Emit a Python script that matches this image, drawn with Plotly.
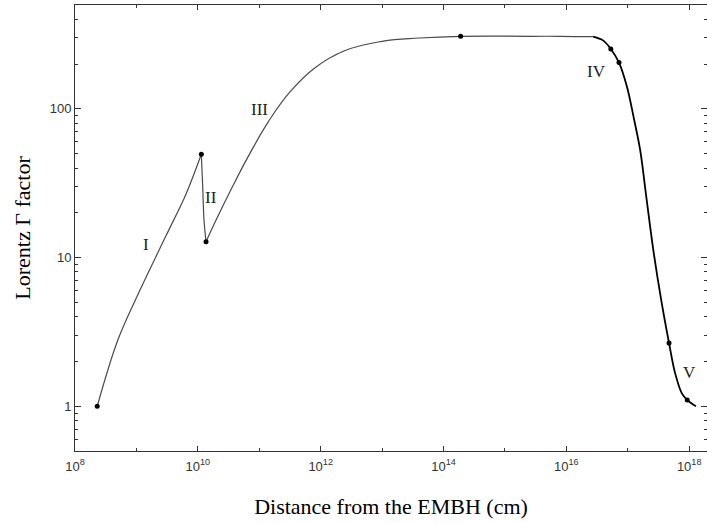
import plotly.graph_objects as go

# ---- data ----
# Segment I (acceleration)
seg1_x = [2.3e8, 5.0e8, 1.15e9, 3.03e9, 6.43e9, 1.14e10]
seg1_y = [1.0, 2.80, 6.07, 14.0, 26.8, 49.5]
# Segment II (collision with baryons)
seg2_x = [1.14e10, 1.20e10, 1.26e10, 1.36e10]
seg2_y = [49.5, 30.0, 17.9, 12.8]
# Segment III (re-acceleration and coasting)
seg3_x = [1.36e10, 1.98e10, 3.78e10, 7.08e10, 1.41e11, 3.16e11, 7.9e11, 2.5e12,
          1.0e13, 4.0e13, 1.9e14, 2.6e15, 7.9e15, 2.73e16]
seg3_y = [12.8, 17.9, 30.8, 50.4, 82.2, 130, 188, 247,
          285, 300, 308, 308, 308, 306]
# Segments IV and V (deceleration)
seg4_x = [2.73e16, 4.0e16, 5.3e16, 7.2e16, 9.7e16, 1.24e17, 1.59e17, 2.0e17,
          2.6e17, 3.5e17, 4.7e17, 5.9e17, 7.6e17, 9.3e17, 1.29e18]
seg4_y = [306, 288, 253, 205, 141, 88.7, 53, 25.7,
          11.3, 5.2, 2.66, 1.67, 1.22, 1.10, 1.0]
# Marked points
pts_x = [2.3e8, 1.14e10, 1.36e10, 1.9e14, 5.3e16, 7.2e16, 4.7e17, 9.3e17]
pts_y = [1.0, 49.5, 12.8, 308, 253, 205, 2.66, 1.10]

# Phase labels
phase_labels = ["I", "II", "III", "IV", "V"]
phase_logx = [9.156, 10.215, 10.997, 16.485, 18.0]
phase_logy = [1.085, 1.401, 1.993, 2.249, 0.225]

# Ticks
x_major = [1e8, 1e10, 1e12, 1e14, 1e16, 1e18]
x_major_text = ["10<sup>8</sup>", "10<sup>10</sup>", "10<sup>12</sup>",
                "10<sup>14</sup>", "10<sup>16</sup>", "10<sup>18</sup>"]
x_minor = [1e9, 1e11, 1e13, 1e15, 1e17]
y_major = [1, 10, 100]
y_major_text = ["1", "10", "100"]
y_minor = [0.5, 0.6, 0.7, 0.8, 0.9, 2, 3, 4, 5, 6, 7, 8, 9,
           20, 30, 40, 50, 60, 70, 80, 90, 200, 300, 400, 500]

fig = go.Figure()
line_grey = dict(color="#4a4a4a", width=1.2, shape="spline", smoothing=1.0)
fig.add_trace(go.Scatter(x=seg1_x, y=seg1_y, mode="lines", line=line_grey, hoverinfo="skip"))
fig.add_trace(go.Scatter(x=seg2_x, y=seg2_y, mode="lines", line=line_grey, hoverinfo="skip"))
fig.add_trace(go.Scatter(x=seg3_x, y=seg3_y, mode="lines",
                         line=dict(color="#4a4a4a", width=1.2, shape="spline", smoothing=1.2),
                         hoverinfo="skip"))
fig.add_trace(go.Scatter(x=seg4_x, y=seg4_y, mode="lines",
                         line=dict(color="#000000", width=1.8, shape="spline", smoothing=1.0),
                         hoverinfo="skip"))
fig.add_trace(go.Scatter(x=pts_x, y=pts_y, mode="markers",
                         marker=dict(color="#000000", size=5)))

for lab, lx, ly in zip(phase_labels, phase_logx, phase_logy):
    fig.add_annotation(x=lx, y=ly, xref="x", yref="y", text=lab, showarrow=False,
                       font=dict(family="Liberation Serif", size=17, color="#222222"))

axis_common = dict(
    type="log", showgrid=False, zeroline=False, showline=True, linecolor="#333333",
    linewidth=1, mirror="allticks", ticks="inside", tickcolor="#333333",
    tickfont=dict(family="Liberation Sans", size=13, color="#333333"),
)

fig.update_xaxes(
    **axis_common,
    range=[8, 18.29], tickvals=x_major, ticktext=x_major_text, ticklen=5,
    ticklabelstandoff=3,
    minor=dict(tickvals=x_minor, ticks="inside", ticklen=3, tickcolor="#333333", showgrid=False),
    title=dict(text="Distance from the EMBH (cm)", standoff=26,
               font=dict(family="Liberation Serif", size=22, color="#000000")),
)
fig.update_yaxes(
    **axis_common,
    range=[-0.30103, 2.69897], tickvals=y_major, ticktext=y_major_text, ticklen=6,
    minor=dict(tickvals=y_minor, ticks="inside", ticklen=3, tickcolor="#333333", showgrid=False),
    title=dict(text="Lorentz Γ factor", standoff=12,
               font=dict(family="Liberation Serif", size=22, color="#000000")),
)

fig.update_layout(
    width=707, height=523,
    margin=dict(l=75, r=0, t=5, b=72),
    paper_bgcolor="white", plot_bgcolor="white",
    showlegend=False,
)

fig.write_html("out.html")
